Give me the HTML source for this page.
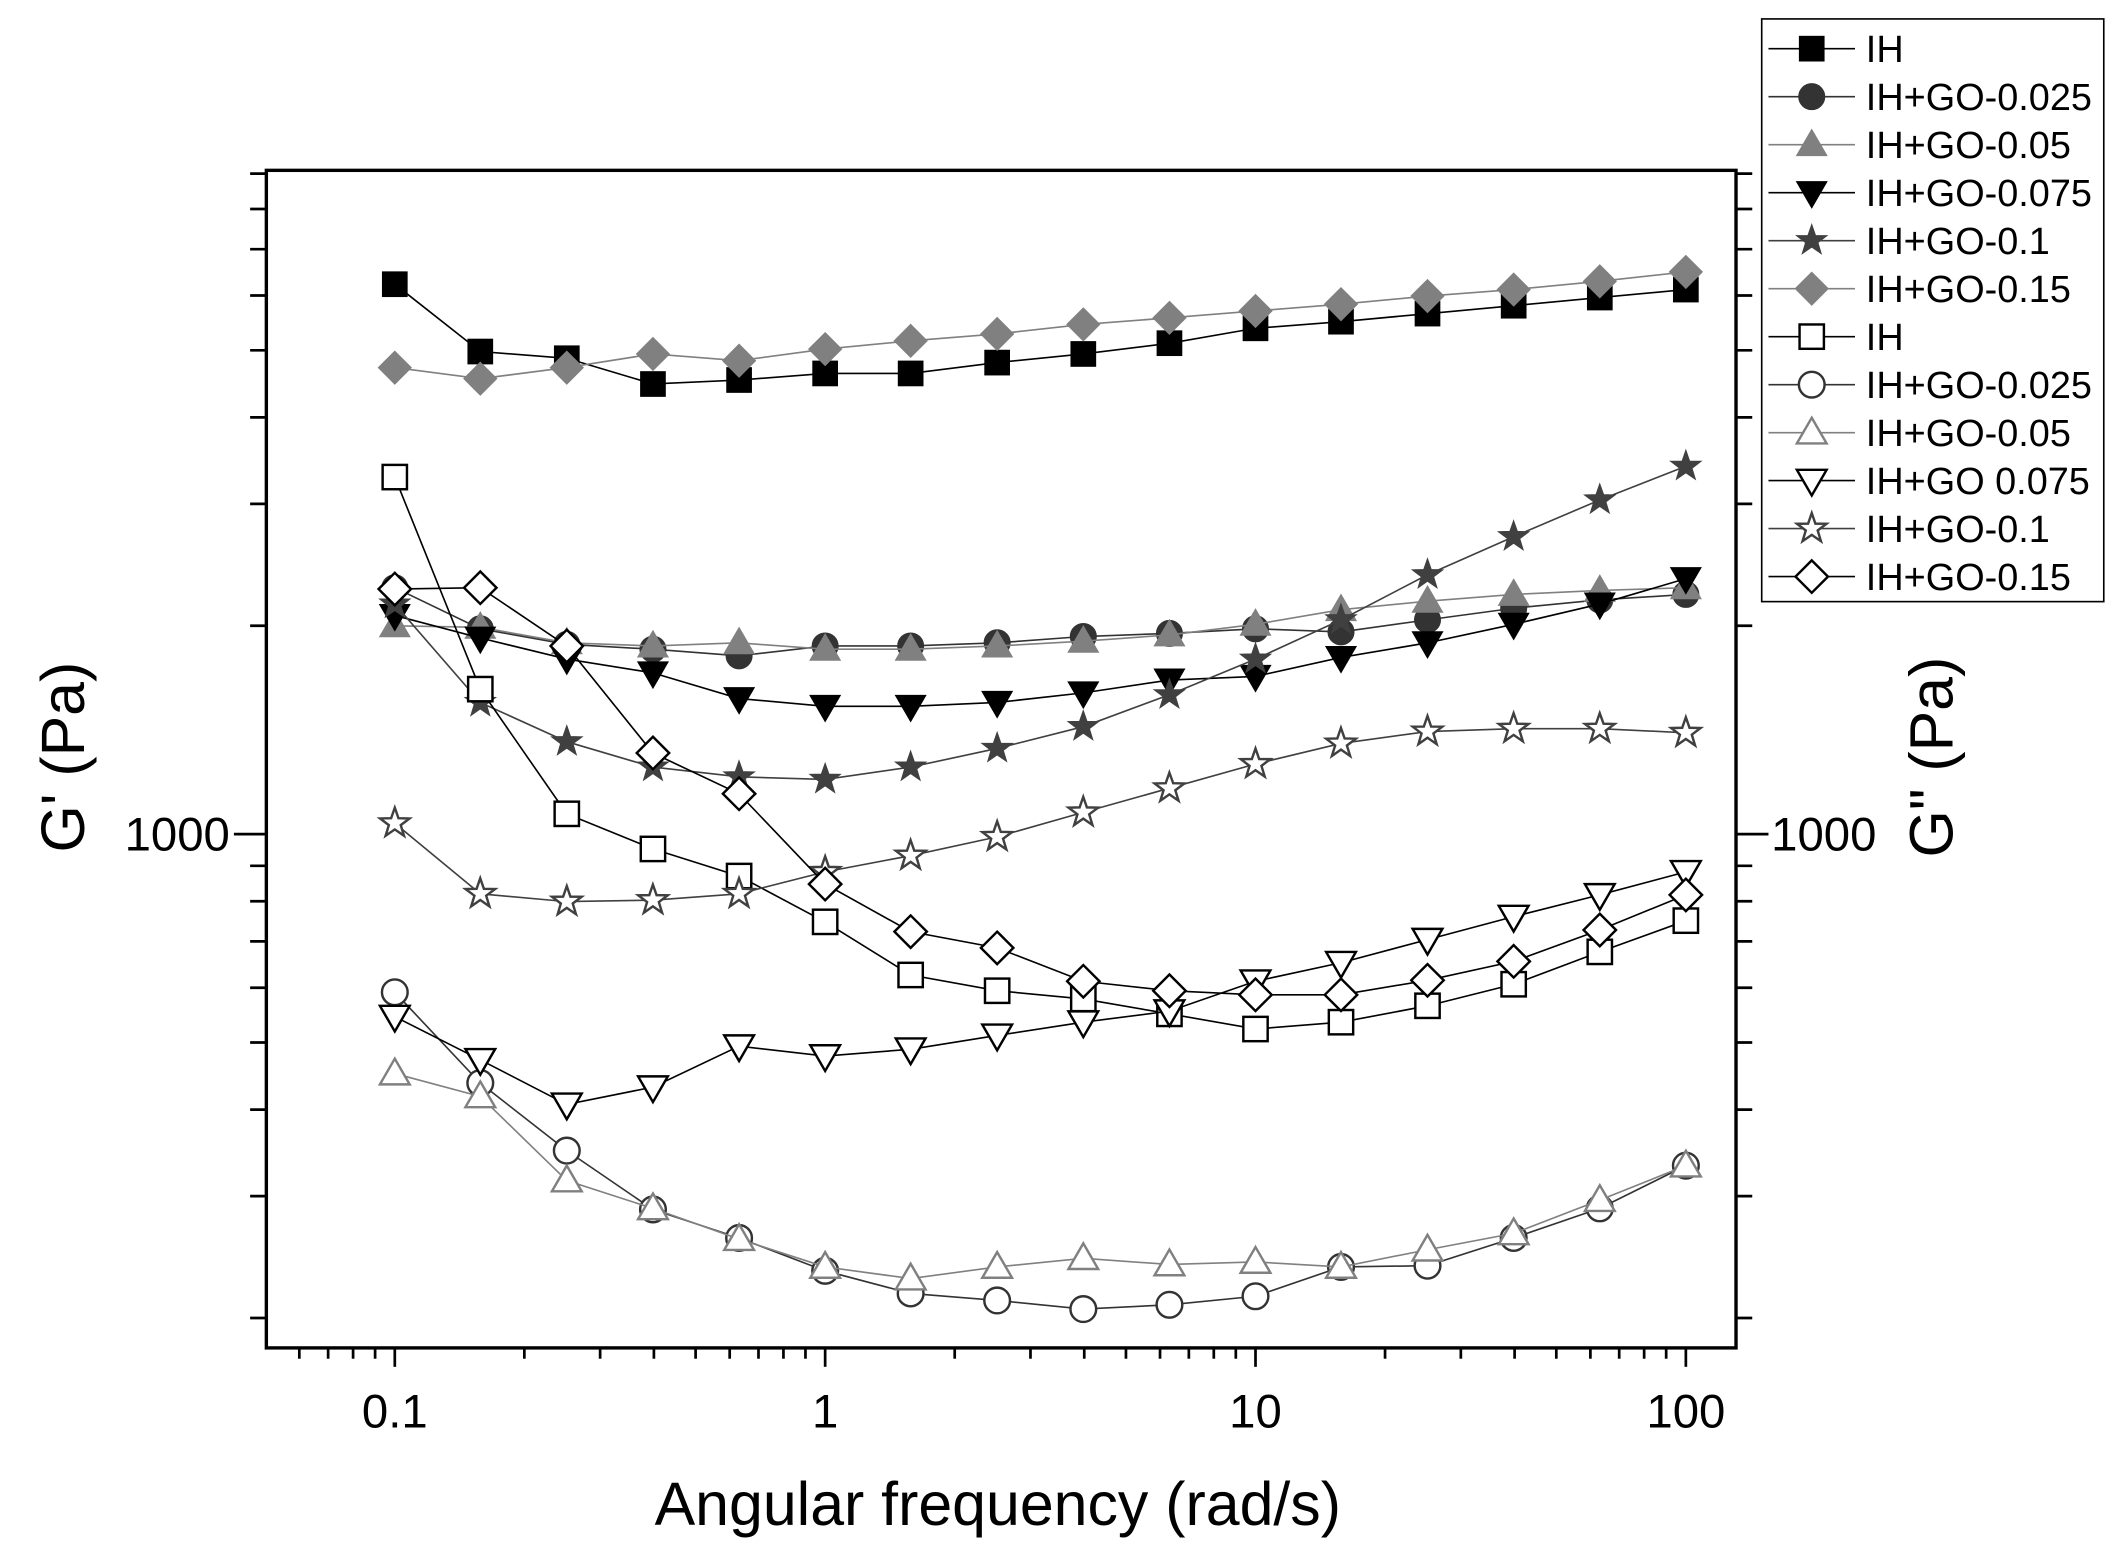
<!DOCTYPE html>
<html><head><meta charset="utf-8"><style>html,body{margin:0;padding:0;background:#fff}svg{display:block}</style></head>
<body>
<svg id="chart" width="2120" height="1558" viewBox="0 0 1568 1152.4" preserveAspectRatio="none" xmlns="http://www.w3.org/2000/svg" font-family="Liberation Sans, Arial, sans-serif"></svg>
<script>
const freqs=[0.1,0.158,0.251,0.398,0.631,1,1.58,2.51,3.98,6.31,10,15.8,25.1,39.8,63.1,100];
const ihG1=[6230,4980,4870,4470,4530,4630,4630,4800,4940,5120,5380,5500,5650,5800,5960,6120];
const go025G1=[2270,1980,1880,1850,1810,1870,1870,1890,1930,1950,1980,1960,2040,2120,2180,2220];
const go05G1=[2000,1990,1890,1870,1890,1850,1850,1870,1900,1940,2010,2110,2170,2220,2250,2270];
const go075G1=[2070,1920,1790,1710,1570,1530,1530,1550,1600,1670,1690,1800,1890,2010,2150,2340];
const go1G1=[2150,1550,1360,1250,1210,1200,1250,1330,1430,1590,1790,2040,2370,2690,3040,3400];
const go15G1=[4720,4550,4720,4940,4830,5020,5160,5280,5450,5570,5700,5830,5990,6120,6290,6490];
const ihG2=[3280,1620,1070,952,870,747,626,594,578,550,523,535,565,607,676,750];
const go025G2=[591,437,349,287,261,234,217,212,206,209,215,237,238,261,288,332];
const go05G2=[451,418,316,288,260,237,228,237,244,239,241,237,251,265,296,332];
const go075G2=[545,472,407,431,494,478,489,512,535,555,613,652,704,760,817,882];
const go1G2=[1037,820,799,803,820,882,931,991,1075,1165,1263,1352,1407,1420,1420,1401];
const go15G2=[2260,2270,1870,1310,1144,847,723,685,613,594,586,586,615,655,727,817];
const seriesNames=["IH","IH+GO-0.025","IH+GO-0.05","IH+GO-0.075","IH+GO-0.1","IH+GO-0.15","IH","IH+GO-0.025","IH+GO-0.05","IH+GO 0.075","IH+GO-0.1","IH+GO-0.15"];
const xTickLabels=["0.1","1","10","100"];
const xTickVals=[0.1,1,10,100];
const yTickLabels=["1000"];
const yTickVals=[1000];

const NS="http://www.w3.org/2000/svg";
const svg=document.getElementById('chart');
const L=197,R=1284,T=126,B=997;
function xs(v){return 292+(Math.log10(v)+1)*318.3;}
function ys(v){return 617-(Math.log10(v)-3)*512;}
function mk(tag,attrs,parent){const e=document.createElementNS(NS,tag);for(const k in attrs)e.setAttribute(k,attrs[k]);(parent||svg).appendChild(e);return e;}

const frame=mk('rect',{x:L,y:T,width:R-L,height:B-T,fill:'none',stroke:'#000','stroke-width':2.5});



for(let d=-2;d<=2;d++){for(let m=1;m<10;m++){const v=m*Math.pow(10,d);const x=xs(v);if(x<L-0.5||x>R+0.5)continue;const major=m===1;
 const t=mk('line',{x1:x,x2:x,y1:B,y2:B+(major?14:8),stroke:'#000','stroke-width':2});
 
 }}
xTickVals.forEach((v,i)=>{const t=mk('text',{x:xs(v),y:1056,'font-size':35,'text-anchor':'middle',fill:'#000'});t.textContent=xTickLabels[i];
 
 });
for(let d=2;d<=3;d++){for(let m=1;m<10;m++){const v=m*Math.pow(10,d);const y=ys(v);if(y<T-0.5||y>B+0.5)continue;const major=(v===1000);
 const t1=mk('line',{x1:L,x2:L-(major?24:12),y1:y,y2:y,stroke:'#000','stroke-width':2});
 
 
 const t2=mk('line',{x1:R,x2:R+(major?24:12),y1:y,y2:y,stroke:'#000','stroke-width':2});
 
 }}
yTickVals.forEach((v,i)=>{const a=mk('text',{x:170,y:ys(v)+12,'font-size':35,'text-anchor':'end'});a.textContent=yTickLabels[i];
 
 
 const b=mk('text',{x:1310,y:ys(v)+12,'font-size':35,'text-anchor':'start'});b.textContent=yTickLabels[i];
 
 });
const xt=mk('text',{x:738,y:1128,'font-size':45,'text-anchor':'middle'});xt.textContent='Angular frequency (rad/s)';


const yl=mk('text',{x:0,y:0,'font-size':45,'text-anchor':'middle',transform:'translate(62,560) rotate(-90)'});yl.textContent="G' (Pa)";


const yr=mk('text',{x:0,y:0,'font-size':45,'text-anchor':'middle',transform:'translate(1444,560) rotate(-90)'});yr.textContent='G" (Pa)';



function marker(g,shape,cx,cy,fill,stroke){const s=10;let e;
 if(shape==='square')e=mk('rect',{x:cx-s+1,y:cy-s+1,width:2*s-2,height:2*s-2},g);
 else if(shape==='circle')e=mk('circle',{cx:cx,cy:cy,r:s-0.5},g);
 else if(shape==='tri')e=mk('polygon',{points:`${cx},${cy-s-1} ${cx+s+1},${cy+s-2} ${cx-s-1},${cy+s-2}`},g);
 else if(shape==='itri')e=mk('polygon',{points:`${cx},${cy+s+1} ${cx+s+1},${cy-s+2} ${cx-s-1},${cy-s+2}`},g);
 else if(shape==='diamond')e=mk('polygon',{points:`${cx},${cy-s-2} ${cx+s+2},${cy} ${cx},${cy+s+2} ${cx-s-2},${cy}`},g);
 else {let p=[];for(let i=0;i<10;i++){const r=i%2?4.6:11.5;const a=-Math.PI/2+i*Math.PI/5;p.push((cx+r*Math.cos(a)).toFixed(1)+','+(cy+r*Math.sin(a)).toFixed(1));}e=mk('polygon',{points:p.join(' ')},g);}
 e.setAttribute('fill',fill);e.setAttribute('stroke',stroke);e.setAttribute('stroke-width',fill==='#fff'?1.8:1);
 return e;}

const defs=[
 [ihG1,'square','#000','#000','#000','series-ih-storage'],
 [go025G1,'circle','#333','#333','#333','series-go025-storage'],
 [go05G1,'tri','#808080','#808080','#808080','series-go05-storage'],
 [go075G1,'itri','#000','#000','#000','series-go075-storage'],
 [go1G1,'star','#404040','#404040','#404040','series-go1-storage'],
 [go15G1,'diamond','#808080','#808080','#808080','series-go15-storage'],
 [ihG2,'square','#fff','#000','#000','series-ih-loss'],
 [go025G2,'circle','#fff','#333','#333','series-go025-loss'],
 [go05G2,'tri','#fff','#808080','#808080','series-go05-loss'],
 [go075G2,'itri','#fff','#000','#000','series-go075-loss'],
 [go1G2,'star','#fff','#404040','#404040','series-go1-loss'],
 [go15G2,'diamond','#fff','#000','#000','series-go15-loss']];
defs.forEach(d=>{const g=mk('g',{});
 
 
 const pts=d[0].map((v,i)=>xs(freqs[i]).toFixed(1)+','+ys(v).toFixed(1)).join(' ');
 mk('polyline',{points:pts,fill:'none',stroke:d[4],'stroke-width':1.2},g);
 d[0].forEach((v,i)=>{const m=marker(g,d[1],xs(freqs[i]),ys(v),d[2],d[3]);
  
  });});

const lg=mk('g',{});


mk('rect',{x:1303,y:14,width:253,height:431,fill:'#fff',stroke:'#000','stroke-width':1.2},lg);
defs.forEach((d,i)=>{const y=36+i*35.5;const e=mk('g',{},lg);
 
 
 mk('line',{x1:1308,x2:1372,y1:y,y2:y,stroke:d[4],'stroke-width':1.2},e);
 marker(e,d[1],1340,y,d[2],d[3]);
 const t=mk('text',{x:1380,y:y+10,'font-size':28},e);t.textContent=seriesNames[i];});
</script>
</body></html>
